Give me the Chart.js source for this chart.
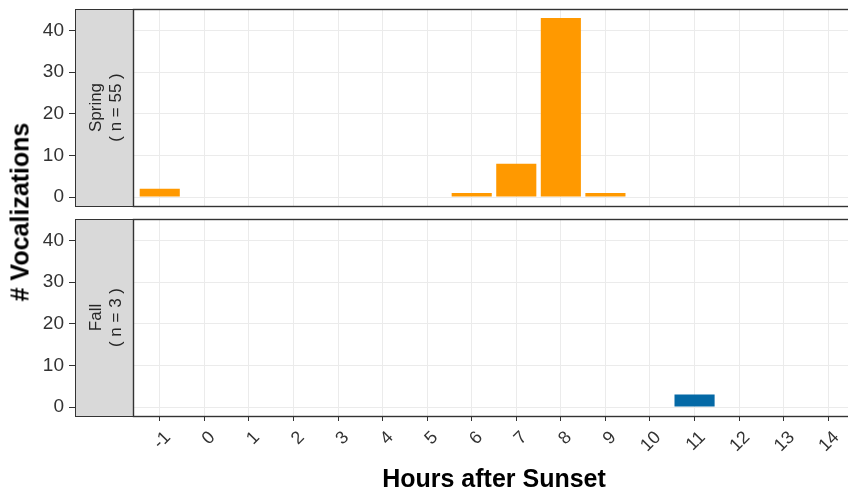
<!DOCTYPE html>
<html>
<head>
<meta charset="utf-8">
<script src="https://cdn.jsdelivr.net/npm/chart.js@4/dist/chart.umd.min.js"></script>
<style>
	html, body { margin: 0; padding: 0; background: #fff; overflow: hidden; }
	#wrap { position: relative; width: 848px; height: 497px; overflow: hidden; }
	#wrap canvas { position: absolute; left: 0; }
	#springChart { top: 0; }
	#fallChart { top: 212px; }
	#yTitle {
		position: absolute;
		left: 20px;
		top: 212px;
		transform: translate(-50%, -50%) rotate(-90deg);
		font: bold 25px 'Liberation Sans', Arial, sans-serif;
		color: #000;
		white-space: nowrap;
	}
</style>
</head>
<body>
<div id="wrap">
	<canvas id="springChart" width="856" height="212" style="width:856px;height:212px"></canvas>
	<canvas id="fallChart" width="856" height="285" style="width:856px;height:285px"></canvas>
	<div id="yTitle"># Vocalizations</div>
</div>
<script>
const hours = [-1, 0, 1, 2, 3, 4, 5, 6, 7, 8, 9, 10, 11, 12, 13, 14];
const springCounts = [2, 0, 0, 0, 0, 0, 0, 1, 8, 43, 1, 0, 0, 0, 0, 0];
const fallCounts = [0, 0, 0, 0, 0, 0, 0, 0, 0, 0, 0, 0, 3, 0, 0, 0];
const yMajorTicks = [0, 10, 20, 30, 40];
const yMinorTicks = [5, 15, 25, 35, 45];
const seasons = ['Spring', 'Fall'];
const sampleSizes = [55, 3];
const seasonColors = ['#FF9900', '#0469A6'];

const FONT = "'Liberation Sans', Arial, sans-serif";
const STRIP_LEFT = 75;
const PANEL_LEFT = 133;

// ggplot-style limits: 0.6 unit padding on discrete x, 5% on y
const X_MIN = -1.6;
const X_MAX = 14.6;
const Y_MIN = -2.15;
const Y_MAX = 45.15;

const stripPlugin = {
	id: 'facetStrip',
	afterDraw(chart, args, opts) {
		const { ctx, chartArea } = chart;
		const { left, top, right, bottom } = chartArea;
		ctx.save();
		ctx.fillStyle = '#d9d9d9';
		ctx.fillRect(STRIP_LEFT, top, left - STRIP_LEFT, bottom - top);
		ctx.strokeStyle = '#333333';
		ctx.lineWidth = 1;
		ctx.strokeRect(STRIP_LEFT + 0.5, top + 0.5, left - STRIP_LEFT, bottom - top);
		ctx.lineWidth = 1.4;
		ctx.strokeRect(left + 0.5, top + 0.5, right - left, bottom - top);

		ctx.translate((STRIP_LEFT + left) / 2 + 2, (top + bottom) / 2);
		ctx.rotate(-Math.PI / 2);
		ctx.fillStyle = '#262626';
		ctx.font = '17px ' + FONT;
		ctx.textAlign = 'center';
		ctx.textBaseline = 'middle';
		ctx.fillText(opts.title, 0, -10);
		ctx.fillText(`( n = ${opts.n} )`, 0, 10);
		ctx.restore();
	},
};

function buildPanel(canvasId, index, showXAxis) {
	const counts = index === 0 ? springCounts : fallCounts;
	return new Chart(document.getElementById(canvasId), {
		type: 'bar',
		data: {
			labels: hours,
			datasets: [{
				label: seasons[index],
				data: counts,
				backgroundColor: seasonColors[index],
				borderWidth: 0,
				barPercentage: 0.9,
				categoryPercentage: 1,
			}],
		},
		options: {
			responsive: false,
			animation: false,
			devicePixelRatio: 1,
			layout: {
				padding: showXAxis
					? { top: 7, right: 1, bottom: 0, left: 0 }
					: { top: 9, right: 1, bottom: 6, left: 0 },
			},
			scales: {
				x: {
					type: 'linear',
					min: X_MIN,
					max: X_MAX,
					offset: false,
					afterBuildTicks(scale) {
						scale.ticks = hours.map((h) => ({ value: h }));
					},
					afterFit(scale) {
						scale.height = showXAxis ? 81 : 0;
						scale.paddingLeft = 0;
						scale.paddingRight = 0;
					},
					border: { display: false },
					grid: {
						offset: false,
						color: '#ebebeb',
						lineWidth: 1,
						drawTicks: showXAxis,
						tickLength: 5,
						tickColor: '#333333',
					},
					ticks: {
						display: showXAxis,
						autoSkip: false,
						minRotation: 45,
						maxRotation: 45,
						padding: 6,
						labelOffset: 8,
						color: '#333333',
						font: { family: FONT, size: 18 },
						callback: (value) => String(value),
					},
					title: {
						display: showXAxis,
						text: 'Hours after Sunset',
						color: '#000',
						font: { family: FONT, size: 25, weight: 'bold' },
						padding: { top: 0, bottom: 2 },
					},
				},
				y: {
					min: Y_MIN,
					max: Y_MAX,
					afterBuildTicks(scale) {
						scale.ticks = yMajorTicks.concat(yMinorTicks)
							.sort((a, b) => a - b)
							.map((v) => ({ value: v }));
					},
					afterFit(scale) {
						scale.width = PANEL_LEFT;
						scale.paddingTop = 0;
						scale.paddingBottom = 0;
					},
					border: { display: false },
					grid: {
						color: (c) => (yMajorTicks.includes(c.tick.value) ? '#ebebeb' : '#f4f4f4'),
						lineWidth: (c) => (yMajorTicks.includes(c.tick.value) ? 1 : 0.7),
						tickLength: 64,
						tickColor: (c) => (yMajorTicks.includes(c.tick.value) ? '#333333' : 'rgba(0,0,0,0)'),
					},
					ticks: {
						padding: 5,
						color: '#333333',
						font: { family: FONT, size: 19 },
						callback: (value) => (yMajorTicks.includes(value) ? String(value) : ''),
					},
				},
			},
			plugins: {
				legend: { display: false },
				tooltip: { enabled: false },
				facetStrip: { title: seasons[index], n: sampleSizes[index] },
			},
		},
		plugins: [stripPlugin],
	});
}

document.addEventListener('DOMContentLoaded', () => {
	buildPanel('springChart', 0, false);
	buildPanel('fallChart', 1, true);
});
</script>
</body>
</html>
